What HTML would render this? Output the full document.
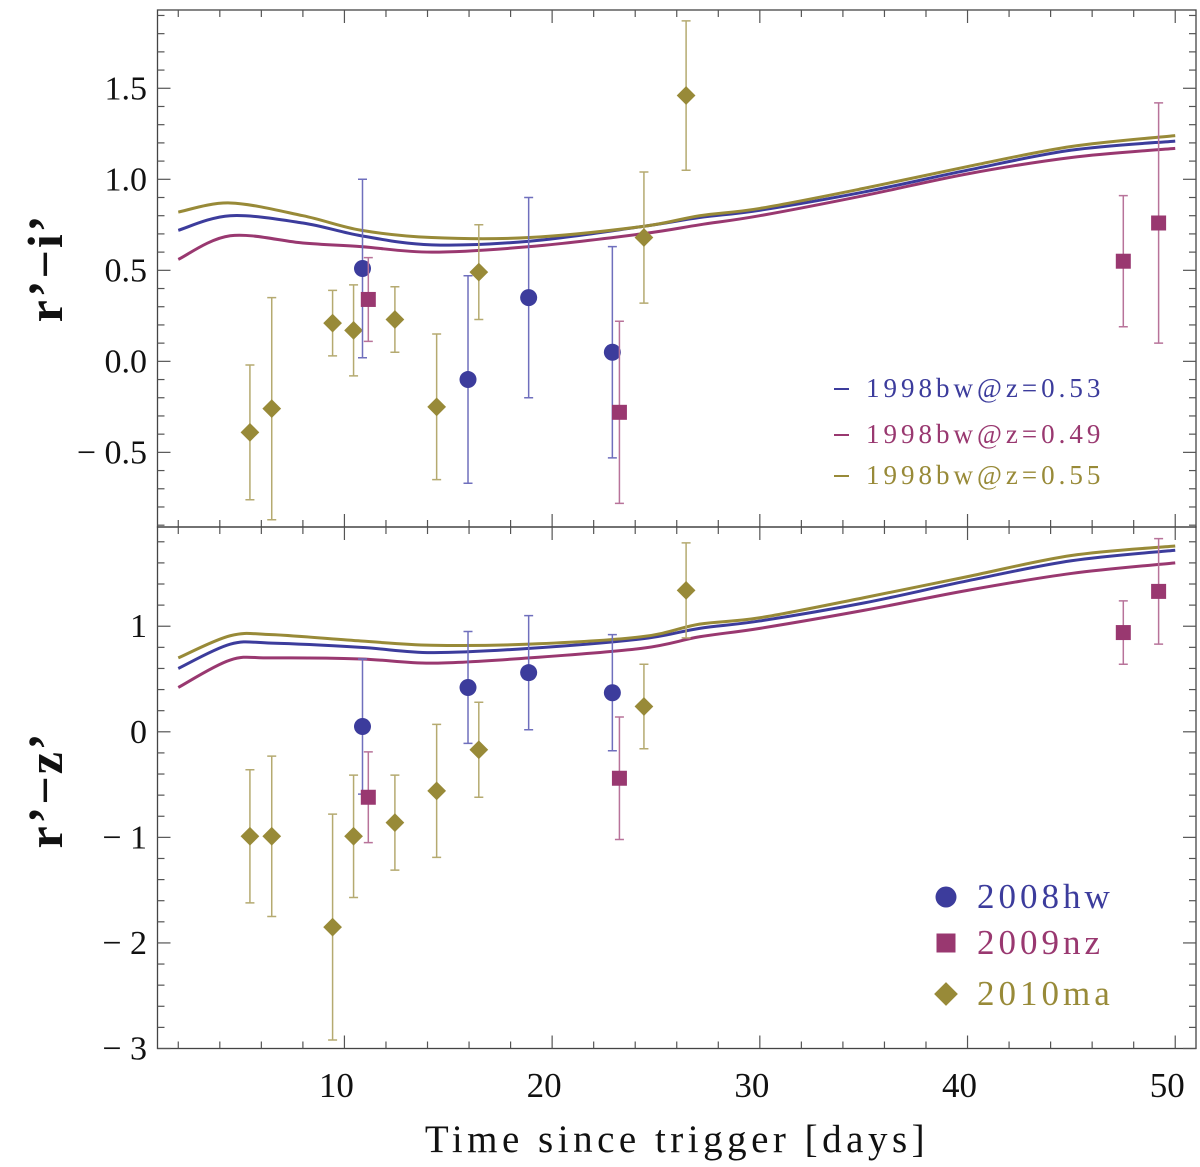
<!DOCTYPE html>
<html><head><meta charset="utf-8"><style>
html,body{margin:0;padding:0;background:#fff;}
svg{display:block;font-family:"Liberation Serif",serif;}
</style></head><body>
<svg id="chart" width="1200" height="1167" viewBox="0 0 1200 1167" xmlns="http://www.w3.org/2000/svg"></svg>
<script>
// ---- data ----
const modelDays = [2, 4.5, 8, 10.8, 14.2, 18.9, 24.3, 27.1, 30, 35, 40, 45, 50];
const ri053 = [0.72, 0.80, 0.76, 0.69, 0.64, 0.66, 0.74, 0.79, 0.83, 0.93, 1.05, 1.16, 1.21];
const ri049 = [0.56, 0.69, 0.65, 0.63, 0.60, 0.63, 0.70, 0.75, 0.80, 0.91, 1.03, 1.12, 1.17];
const ri055 = [0.82, 0.87, 0.80, 0.72, 0.68, 0.68, 0.74, 0.80, 0.84, 0.95, 1.07, 1.18, 1.24];
const modelDaysZ = [2, 4.5, 6.5, 10.8, 14.2, 18.9, 24.3, 27.1, 30, 35, 40, 45, 50];
const rz053 = [0.60, 0.83, 0.84, 0.80, 0.75, 0.79, 0.88, 0.98, 1.05, 1.22, 1.43, 1.62, 1.72];
const rz049 = [0.42, 0.68, 0.70, 0.69, 0.65, 0.70, 0.79, 0.90, 0.98, 1.15, 1.34, 1.50, 1.60];
const rz055 = [0.70, 0.91, 0.92, 0.86, 0.82, 0.83, 0.90, 1.02, 1.08, 1.27, 1.47, 1.67, 1.76];

const hwDays = [10.87, 15.95, 18.87, 22.9];
const hwRI = [0.51, -0.10, 0.35, 0.05];
const hwRIerr = [0.49, 0.57, 0.55, 0.58];
const hwRZ = [0.05, 0.42, 0.56, 0.37];
const hwRZerr = [0.64, 0.53, 0.54, 0.55];

const nzDays = [11.15, 23.24, 47.5, 49.2];
const nzRI = [0.34, -0.28, 0.55, 0.76];
const nzRIerr = [0.23, 0.50, 0.36, 0.66];
const nzRZ = [-0.62, -0.44, 0.94, 1.33];
const nzRZerr = [0.43, 0.58, 0.30, 0.50];

const maDays = [5.45, 6.5, 9.43, 10.44, 12.43, 14.44, 16.47, 24.42, 26.45];
const maRI = [-0.39, -0.26, 0.21, 0.17, 0.23, -0.25, 0.49, 0.68, 1.46];
const maRIerr = [0.37, 0.61, 0.18, 0.25, 0.18, 0.40, 0.26, 0.36, 0.41];
const maRZ = [-0.99, -0.99, -1.85, -0.99, -0.86, -0.56, -0.17, 0.24, 1.34];
const maRZerr = [0.63, 0.76, 1.07, 0.58, 0.45, 0.63, 0.45, 0.40, 0.45];

const xTicks = [10, 20, 30, 40, 50];
const riTicks = [1.5, 1.0, 0.5, 0.0, -0.5];
const rzTicks = [1, 0, -1, -2, -3];

// ---- layout ----
const NS = "http://www.w3.org/2000/svg";
const svg = document.getElementById('chart');
const L = 157.5, R = 1196;
const X0 = 1, X1 = 51;
const x = d => L + (d - X0) / (X1 - X0) * (R - L);
const P1 = {top: 10, bot: 527, v0: -0.91, v1: 1.93};
const P2 = {top: 527, bot: 1048.5, v0: -3, v1: 1.94};
const yf = P => v => P.bot - (v - P.v0) / (P.v1 - P.v0) * (P.bot - P.top);
const y1 = yf(P1), y2 = yf(P2);
const BLUE = '#3c3c9c', MAG = '#993870', GOLD = '#988a38';
const BLUEL = '#6f6fbd', MAGL = '#b8739a', GOLDL = '#b5aa70';

function el(tag, attrs, parent) {
  const e = document.createElementNS(NS, tag);
  for (const k in attrs) e.setAttribute(k, attrs[k]);
  (parent || svg).appendChild(e);
  return e;
}
function smoothPath(xs, ys) {
  const p = xs.map((d, i) => [d, ys[i]]);
  let s = `M${p[0][0]},${p[0][1]}`;
  for (let i = 0; i < p.length - 1; i++) {
    const a = p[i - 1] || p[i], b = p[i], c = p[i + 1], d = p[i + 2] || c;
    const c1 = [b[0] + (c[0] - a[0]) / 6, b[1] + (c[1] - a[1]) / 6];
    const c2 = [c[0] - (d[0] - b[0]) / 6, c[1] - (d[1] - b[1]) / 6];
    s += ` C${c1[0]},${c1[1]} ${c2[0]},${c2[1]} ${c[0]},${c[1]}`;
  }
  return s;
}

// ---- frames & ticks ----
function frame(P, yf_, majors, minorStep, name) {
  const g = el('g', {});
  
  
  el('rect', {x: L, y: P.top, width: R - L, height: P.bot - P.top, fill: 'none', stroke: '#444', 'stroke-width': 1.3}, g);
  for (let d = 2; d <= 50; d += 2) {
    const major = d % 10 === 0, len = major ? 13 : 7, xx = x(d);
    el('line', {x1: xx, y1: P.bot, x2: xx, y2: P.bot - len, stroke: '#555', 'stroke-width': 1.2}, g);
    el('line', {x1: xx, y1: P.top, x2: xx, y2: P.top + len, stroke: '#555', 'stroke-width': 1.2}, g);
  }
  const n = Math.round((P.v1 - P.v0) / minorStep) + 2;
  const start = Math.ceil(P.v0 / minorStep) * minorStep;
  for (let i = 0; i < n; i++) {
    const v = +(start + i * minorStep).toFixed(3);
    if (v > P.v1) break;
    const isMaj = majors.some(m => Math.abs(m - v) < 1e-6), len = isMaj ? 13 : 7, yy = yf_(v);
    el('line', {x1: L, y1: yy, x2: L + len, y2: yy, stroke: '#555', 'stroke-width': 1.2}, g);
    el('line', {x1: R, y1: yy, x2: R - len, y2: yy, stroke: '#555', 'stroke-width': 1.2}, g);
  }
}
frame(P1, y1, riTicks, 0.1, 'top-panel');
frame(P2, y2, rzTicks, 0.2, 'bottom-panel');

function fmt(v, dec) { const s = Math.abs(v).toFixed(dec); return (v < 0 ? '\u2212 ' : '') + s; }
riTicks.forEach(v => {
  const t = el('text', {x: 147, y: y1(v) + 11, 'text-anchor': 'end', 'font-size': 34, fill: '#111'});
  t.textContent = fmt(v, 1);
  
  
});
rzTicks.forEach(v => {
  const t = el('text', {x: 147, y: y2(v) + 11, 'text-anchor': 'end', 'font-size': 34, fill: '#111'});
  t.textContent = fmt(v, 0);
  
  
});
xTicks.forEach(v => {
  const t = el('text', {x: x(v) - 8, y: 1097, 'text-anchor': 'middle', 'font-size': 35, fill: '#111'});
  t.textContent = v;
  
  
});

// ---- model curves ----
function curve(days, vals, yf_, color, name) {
  const p = el('path', {d: smoothPath(days.map(x), vals.map(yf_)), fill: 'none', stroke: color, 'stroke-width': 3});
  
  
}
curve(modelDays, ri049, y1, MAG, 'ri-curve-z049');
curve(modelDays, ri053, y1, BLUE, 'ri-curve-z053');
curve(modelDays, ri055, y1, GOLD, 'ri-curve-z055');
curve(modelDaysZ, rz049, y2, MAG, 'rz-curve-z049');
curve(modelDaysZ, rz053, y2, BLUE, 'rz-curve-z053');
curve(modelDaysZ, rz055, y2, GOLD, 'rz-curve-z055');

// ---- data points ----
function marker(type, cx, cy, color, size) {
  if (type === 'circle') return el('circle', {cx, cy, r: size, fill: color});
  if (type === 'square') return el('rect', {x: cx - size, y: cy - size, width: 2 * size, height: 2 * size, fill: color});
  return el('polygon', {points: `${cx},${cy - size * 1.25} ${cx + size * 1.25},${cy} ${cx},${cy + size * 1.25} ${cx - size * 1.25},${cy}`, fill: color});
}
function series(days, vals, errs, yf_, type, color, light, name) {
  days.forEach((d, i) => {
    const cx = x(d), cy = yf_(vals[i]), yt = yf_(vals[i] + errs[i]), yb = yf_(vals[i] - errs[i]);
    const e = el('path', {d: `M${cx},${yt}V${yb}M${cx - 4.5},${yt}H${cx + 4.5}M${cx - 4.5},${yb}H${cx + 4.5}`, stroke: light, 'stroke-width': 1.5, fill: 'none'});
    
    
    const m = marker(type, cx, cy, color, type === 'circle' ? 8.5 : 7.5);
    
    
  });
}
series(maDays, maRI, maRIerr, y1, 'diamond', GOLD, GOLDL, 'ri-2010ma');
series(hwDays, hwRI, hwRIerr, y1, 'circle', BLUE, BLUEL, 'ri-2008hw');
series(nzDays, nzRI, nzRIerr, y1, 'square', MAG, MAGL, 'ri-2009nz');
series(maDays, maRZ, maRZerr, y2, 'diamond', GOLD, GOLDL, 'rz-2010ma');
series(hwDays, hwRZ, hwRZerr, y2, 'circle', BLUE, BLUEL, 'rz-2008hw');
series(nzDays, nzRZ, nzRZerr, y2, 'square', MAG, MAGL, 'rz-2009nz');

// ---- legends ----
[['1998bw@z=0.53', BLUE, 397], ['1998bw@z=0.49', MAG, 443], ['1998bw@z=0.55', GOLD, 484]].forEach(([txt, c, yy]) => {
  const l = el('line', {x1: 834, y1: yy - 8, x2: 849, y2: yy - 8, stroke: c, 'stroke-width': 2});
  
  
  const t = el('text', {x: 866, y: yy, 'font-size': 27, fill: c, 'letter-spacing': 4});
  t.textContent = txt;
  
  
});
[['2008hw', BLUE, 908, 'circle'], ['2009nz', MAG, 954, 'square'], ['2010ma', GOLD, 1005, 'diamond']].forEach(([txt, c, yy, type]) => {
  const m = marker(type, 946, yy - 11, c, type === 'circle' ? 10.5 : 9.5);
  
  
  const t = el('text', {x: 977, y: yy, 'font-size': 35, fill: c, 'letter-spacing': 4});
  t.textContent = txt;
  
  
});

// ---- axis titles ----
const t1 = el('text', {x: 0, y: 0, 'font-size': 50, 'font-weight': 'bold', 'text-anchor': 'middle', fill: '#111', 'letter-spacing': 2, transform: 'translate(62,268) rotate(-90)'});
t1.textContent = 'r\u2019\u2212i\u2019';


const t2 = el('text', {x: 0, y: 0, 'font-size': 50, 'font-weight': 'bold', 'text-anchor': 'middle', fill: '#111', 'letter-spacing': 2, transform: 'translate(62,790) rotate(-90)'});
t2.textContent = 'r\u2019\u2212z\u2019';


const t3 = el('text', {x: 677, y: 1152, 'font-size': 39, 'text-anchor': 'middle', fill: '#111', 'letter-spacing': 4.5});
t3.textContent = 'Time since trigger [days]';


</script>
</body></html>
